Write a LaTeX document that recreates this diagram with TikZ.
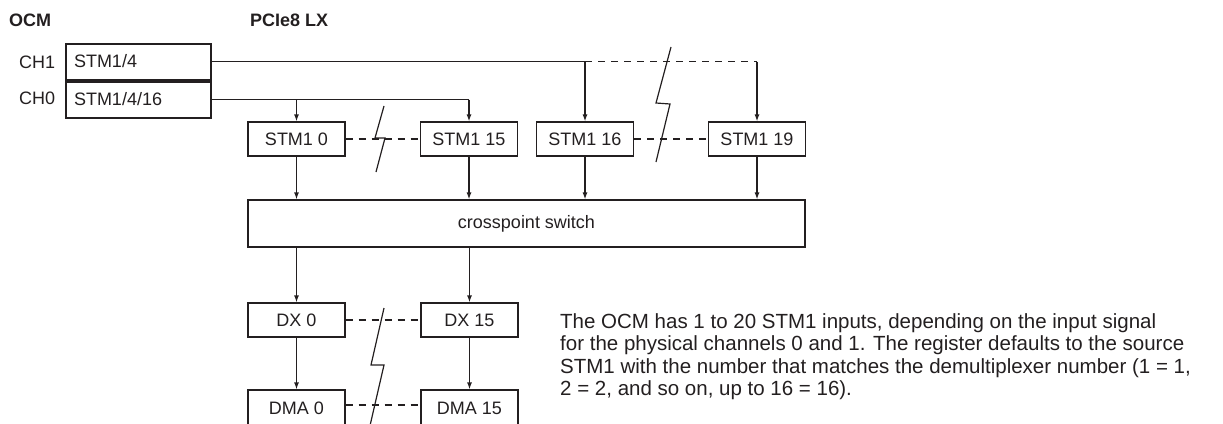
\documentclass[tikz,border=0pt]{standalone}
\usepackage{fontspec}
\setmainfont{Liberation Sans}
\usetikzlibrary{arrows}
\usetikzlibrary{arrows.meta}
\usetikzlibrary{calc}
\usepackage{xcolor}
\definecolor{ink}{HTML}{231F20}

\tikzset{
  every node/.style={font=\fontsize{18}{20}\selectfont, text=ink},
  blk/.style={draw=ink, line width=1.2pt, rectangle, minimum width=97pt, minimum height=34pt, inner sep=0pt},
  ocmblk/.style={draw=ink, line width=2pt, rectangle, minimum height=36pt, text width=129pt, inner xsep=8pt, inner ysep=0pt, align=left},
  wire/.style={draw=ink, line width=1.2pt},
  brk/.style={wire, dash pattern=on 7pt off 6pt},
  tip/.style={wire, -{Latex[length=7pt,width=5pt]}}
}

\begin{document}
\begin{tikzpicture}[x=1pt,y=-1pt]

        \useasboundingbox (0,0) rectangle (1223,423);

        % Headers
        \node[anchor=west, inner sep=0pt, font=\fontsize{18}{20}\selectfont\bfseries] (hocm) at (9,20) {OCM};
        \node[anchor=west, inner sep=0pt, font=\fontsize{18}{20}\selectfont\bfseries] (hpcie) at (250,20) {PCIe8 LX};

        % OCM channels
        \node[ocmblk] (ocm1) at (138.5,61.5) {STM1/4};
        \node[ocmblk, anchor=north] (ocm0) at (ocm1.south) {STM1/4/16};
        \node[anchor=west, inner sep=0pt] (ch1) at (19,62) {CH1};
        \node[anchor=west, inner sep=0pt] (ch0) at (19,98) {CH0};

        % STM1 inputs
        \foreach \n/\x in {0/296.5,15/469,16/585,19/757}
        {
          \node[blk] (s\n) at (\x,139) {STM1 \n};
        }

        % Crosspoint switch
        \node[blk, minimum width=557pt, minimum height=47pt] (cp) at (526.5,223.5) {crosspoint switch};

        % DX and DMA
        \foreach \n/\x in {0/296.5,15/469.5}
        {
          \node[blk] (dx\n) at (\x,320) {DX \n};
          \node[blk, minimum height=36pt] (dma\n) at (\x,408) {DMA \n};
        }

        % CH1 feed
        \coordinate (j16) at (s16 |- ocm1.east);
        \coordinate (j19) at (s19 |- ocm1.east);
        \draw[wire] (ocm1.east) -- (j16);
        \draw[tip] (j16) -- (s16.north);
        \draw[brk] (j16) -- (j19);
        \draw[tip] (j19) -- (s19.north);

        % CH0 feed
        \coordinate (j0) at (s0 |- ocm0.east);
        \coordinate (j15) at (s15 |- ocm0.east);
        \draw[wire] (ocm0.east) -- (j15);
        \draw[tip] (j0) -- (s0.north);
        \draw[tip] (j15) -- (s15.north);

        % Into and out of the switch
        \foreach \n in {0,15,16,19}
        {
          \draw[tip] (s\n.south) -- (s\n |- cp.north);
        }
        \foreach \n in {0,15}
        {
          \draw[tip] (dx\n |- cp.south) -- (dx\n.north);
          \draw[tip] (dx\n.south) -- (dma\n.north);
        }

        % Dashed gaps
        \draw[brk] (s0.east) -- (s15.west);
        \draw[brk] (s16.east) -- (s19.west);
        \draw[brk] (dx0.east) -- (dx15.west);
        \draw[brk] ($(dma0.east)+(0,-3)$) -- ($(dma15.west)+(0,-3)$);

        % Break marks
        \draw[wire] (384,106) -- (375,138) -- (385,138) -- (376,172);
        \draw[wire] (671,47) -- (656,103) -- (670,104) -- (656,162);
        \draw[wire] (384,308) -- (371,365) -- (384,365) -- (369,430);

        % Note
        \node[anchor=north west, align=left, inner sep=0pt, font=\fontsize{20.5}{22.5}\selectfont] (note) at (560,313)
          {The OCM has 1 to 20 STM1 inputs, depending on the input signal\\
           for the physical channels 0 and 1. The register defaults to the source\\
           STM1 with the number that matches the demultiplexer number (1 = 1,\\
           2 = 2, and so on, up to 16 = 16).};

\end{tikzpicture}
\end{document}
